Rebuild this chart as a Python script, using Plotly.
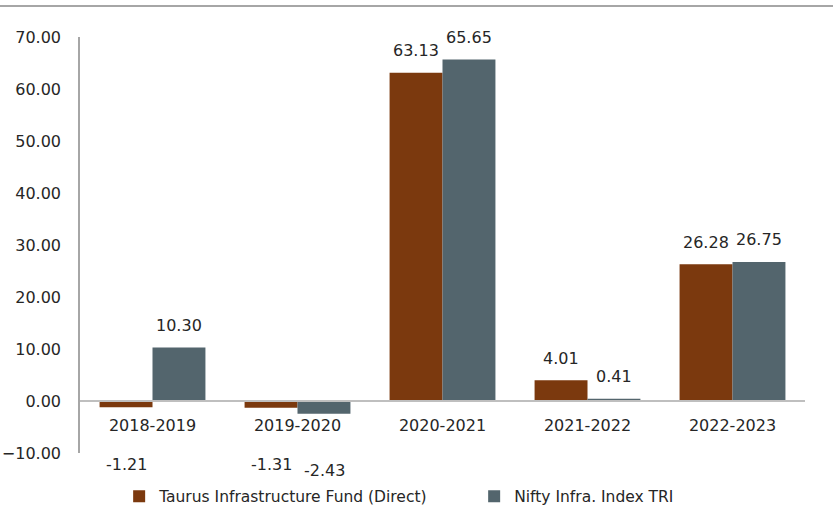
import plotly.graph_objects as go

categories = ["2018-2019", "2019-2020", "2020-2021", "2021-2022", "2022-2023"]
fund_values = [-1.21, -1.31, 63.13, 4.01, 26.28]
index_values = [10.30, -2.43, 65.65, 0.41, 26.75]
series_names = ["Taurus Infrastructure Fund (Direct)", "Nifty Infra. Index TRI"]
y_ticks = [-10, 0, 10, 20, 30, 40, 50, 60, 70]

ORANGE = "#7B390E"
GRAY = "#53656D"
TEXT = "#262626"
FONT = "DejaVu Sans"

fig = go.Figure()
fig.add_trace(go.Bar(x=categories, y=fund_values, name=series_names[0],
                     marker=dict(color=ORANGE, line=dict(width=0))))
fig.add_trace(go.Bar(x=categories, y=index_values, name=series_names[1],
                     marker=dict(color=GRAY, line=dict(width=0))))

# data labels
for vals, dx in ((fund_values, -26.5), (index_values, 26.5)):
    for c, v in zip(categories, vals):
        shift = 22 if v >= 0 else -57
        fig.add_annotation(x=c, y=v, text=f"{v:.2f}", showarrow=False,
                           xshift=dx, yshift=shift, yanchor="middle",
                           font=dict(size=16, color=TEXT, family=FONT))

ymin, ymax = -10, 70
fig.update_layout(
    width=833, height=514,
    margin=dict(l=80, r=28, t=37, b=61, autoexpand=False),
    paper_bgcolor="white", plot_bgcolor="white",
    barmode="group", bargap=0.27, bargroupgap=0,
    font=dict(family=FONT, size=16, color=TEXT),
    showlegend=True,
    legend=dict(orientation="h", x=0.054, xanchor="left", y=-0.105, yanchor="middle",
                font=dict(size=15.5, color=TEXT, family=FONT), traceorder="normal",
                entrywidth=310, entrywidthmode="pixels"),
    xaxis=dict(anchor="free", position=(0 - ymin) / (ymax - ymin), automargin=False,
               showline=True, linecolor="#BFBFBF", linewidth=1.5,
               showgrid=False, ticks="", ticklabelstandoff=10,
               tickfont=dict(size=16, color=TEXT, family=FONT)),
    yaxis=dict(range=[ymin, ymax], tickvals=y_ticks, tickformat=".2f", automargin=False,
               showline=True, linecolor="#A6A6A6", linewidth=1.5,
               showgrid=False, zeroline=False, ticks="", ticklabelstandoff=14,
               tickfont=dict(size=16, color=TEXT, family=FONT)),
)

fig.add_shape(type="line", xref="paper", yref="paper",
              x0=-80 / 725, x1=753 / 725, y0=1 + 31 / 416, y1=1 + 31 / 416,
              line=dict(color="#A6A6A6", width=2))

fig.write_html("out.html", config={"displayModeBar": False},
               post_script="document.body.style.margin='0';document.body.style.overflow='hidden';")
